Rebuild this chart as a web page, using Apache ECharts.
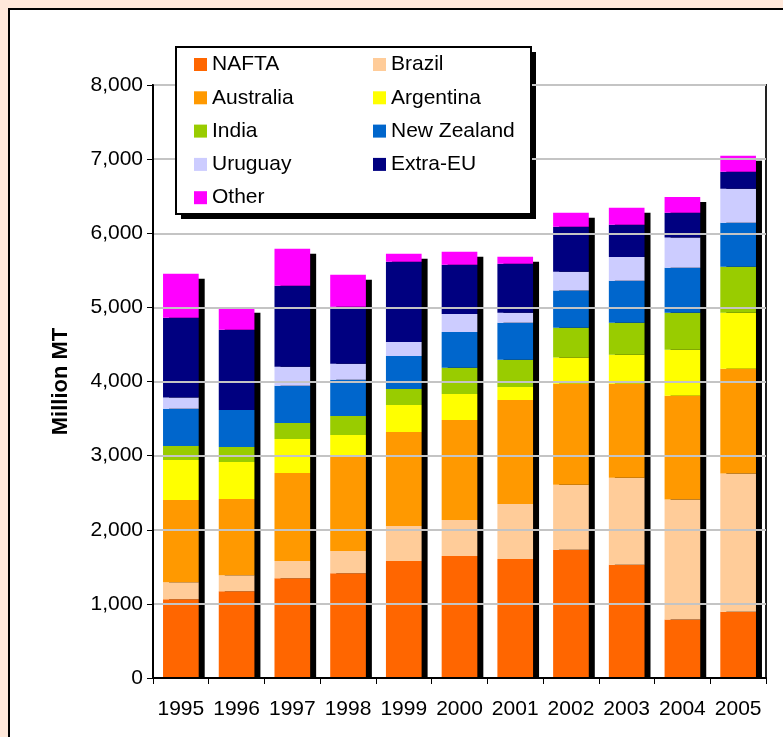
<!DOCTYPE html>
<html>
<head>
<meta charset="utf-8">
<script src="https://cdn.jsdelivr.net/npm/echarts@6/dist/echarts.min.js"></script>
<style>
  html, body { margin: 0; padding: 0; background: #FFE8DA; }
  #panel { position: absolute; left: 8px; top: 8px; width: 800px; height: 760px; background: #ffffff; border-left: 2px solid #000; border-top: 2px solid #000; }
  #chart { position: absolute; left: 0; top: 0; width: 783px; height: 737px; }
</style>
</head>
<body>
<div id="panel"></div>
<div id="chart"></div>
<script>
const years = ['1995','1996','1997','1998','1999','2000','2001','2002','2003','2004','2005'];
const nafta     = [1063, 1171, 1347, 1414, 1579, 1646, 1606, 1731, 1528,  790,  894];
const brazil    = [ 230,  216,  230,  298,  472,  486,  742,  875, 1173, 1618, 1864];
const australia = [1108, 1027, 1189, 1270, 1269, 1350, 1404, 1363, 1268, 1400, 1414];
const argentina = [ 540,  500,  459,  297,  364,  351,  175,  355,  392,  620,  757];
const india     = [ 190,  203,  216,  257,  216,  351,  365,  402,  431,  501,  620];
const newZealand= [ 500,  500,  500,  487,  445,  485,  499,  501,  568,  606,  591];
const uruguay   = [ 153,    0,  257,  216,  189,  243,  135,  255,  321,  406,  459];
const extraEU   = [1076, 1081, 1095,  770, 1080,  662,  661,  606,  435,  336,  232];
const other     = [ 595,  297,  498,  432,  108,  175,   95,  189,  227,  213,  213];
const yTicks = [0, 1000, 2000, 3000, 4000, 5000, 6000, 7000, 8000];

const seriesDefs = [
  ['NAFTA', nafta, '#FF6600'],
  ['Brazil', brazil, '#FFCC99'],
  ['Australia', australia, '#FF9900'],
  ['Argentina', argentina, '#FFFF00'],
  ['India', india, '#99CC00'],
  ['New Zealand', newZealand, '#0066CC'],
  ['Uruguay', uruguay, '#CCCCFF'],
  ['Extra-EU', extraEU, '#000080'],
  ['Other', other, '#FF00FF']
];

const totals = years.map((y, i) => seriesDefs.reduce((s, d) => s + d[1][i], 0));
const FONT = "'Liberation Sans', Arial, sans-serif";
const BAR_FRAC = 0.64;

const chart = echarts.init(document.getElementById('chart'), null, { renderer: 'canvas' });

const series = [{
  type: 'custom',
  name: 'shadow',
  z: 1,
  silent: true,
  renderItem: function (params, api) {
    const idx = api.value(0);
    const top = api.coord([idx, api.value(1)]);
    const base = api.coord([idx, 0]);
    const w = api.size([1, 0])[0] * BAR_FRAC;
    return {
      type: 'rect',
      shape: { x: top[0] - w / 2 + 6, y: top[1] + 5, width: w, height: base[1] - top[1] - 5 },
      style: { fill: '#000000' }
    };
  },
  encode: { x: 0, y: 1 },
  data: totals.map((t, i) => [i, t])
}];

seriesDefs.forEach(d => {
  series.push({
    type: 'bar',
    name: d[0],
    stack: 'total',
    z: 3,
    barWidth: (BAR_FRAC * 100) + '%',
    itemStyle: { color: d[2] },
    emphasis: { disabled: true },
    data: d[1]
  });
});

const legendText = { fontFamily: FONT, fontSize: 21, color: '#000', lineHeight: 20 };

const option = {
  animation: false,
  textStyle: { fontFamily: FONT },
  grid: { left: 153, right: 17, top: 85, bottom: 59, show: true, borderColor: '#222', borderWidth: 2, backgroundColor: '#ffffff' },
  graphic: [
    { type: 'rect', z: 5, shape: { x: 181, y: 52, width: 355, height: 167 }, style: { fill: '#000' } },
    { type: 'rect', z: 6, shape: { x: 176, y: 47, width: 355, height: 167 }, style: { fill: '#fff', stroke: '#000', lineWidth: 2 } }
  ],
  legend: [
    {
      z: 10, orient: 'vertical', left: 194, top: 54, padding: 0,
      itemWidth: 13, itemHeight: 13, itemGap: 12.3, icon: 'rect',
      textStyle: legendText,
      data: ['NAFTA', 'Australia', 'India', 'Uruguay', 'Other']
    },
    {
      z: 10, orient: 'vertical', left: 373, top: 54, padding: 0,
      itemWidth: 13, itemHeight: 13, itemGap: 12.3, icon: 'rect',
      textStyle: legendText,
      data: ['Brazil', 'Argentina', 'New Zealand', 'Extra-EU']
    }
  ],
  xAxis: {
    type: 'category',
    data: years,
    boundaryGap: true,
    axisLine: { lineStyle: { color: '#000', width: 2 } },
    axisTick: { show: true, length: 6, interval: 0, lineStyle: { color: '#000', width: 1 } },
    axisLabel: { fontFamily: FONT, fontSize: 21, color: '#000', margin: 21, interval: 0 },
    z: 5
  },
  yAxis: {
    type: 'value',
    min: 0, max: 8000, interval: 1000,
    name: 'Million MT',
    nameLocation: 'middle',
    nameRotate: 90,
    nameGap: 81,
    nameTextStyle: { fontFamily: FONT, fontSize: 22, fontWeight: 'bold', color: '#000' },
    axisLine: { show: true, lineStyle: { color: '#000', width: 2 } },
    axisTick: { show: true, length: 6, lineStyle: { color: '#000', width: 1 } },
    axisLabel: {
      fontFamily: FONT, fontSize: 21, color: '#000', margin: 10,
      formatter: v => yTicks.includes(v) ? v.toLocaleString('en-US') : ''
    },
    splitLine: { show: true, lineStyle: { color: '#C4C4C4', width: 2 } },
    z: 5
  },
  series: series
};

chart.setOption(option);
</script>
</body>
</html>
